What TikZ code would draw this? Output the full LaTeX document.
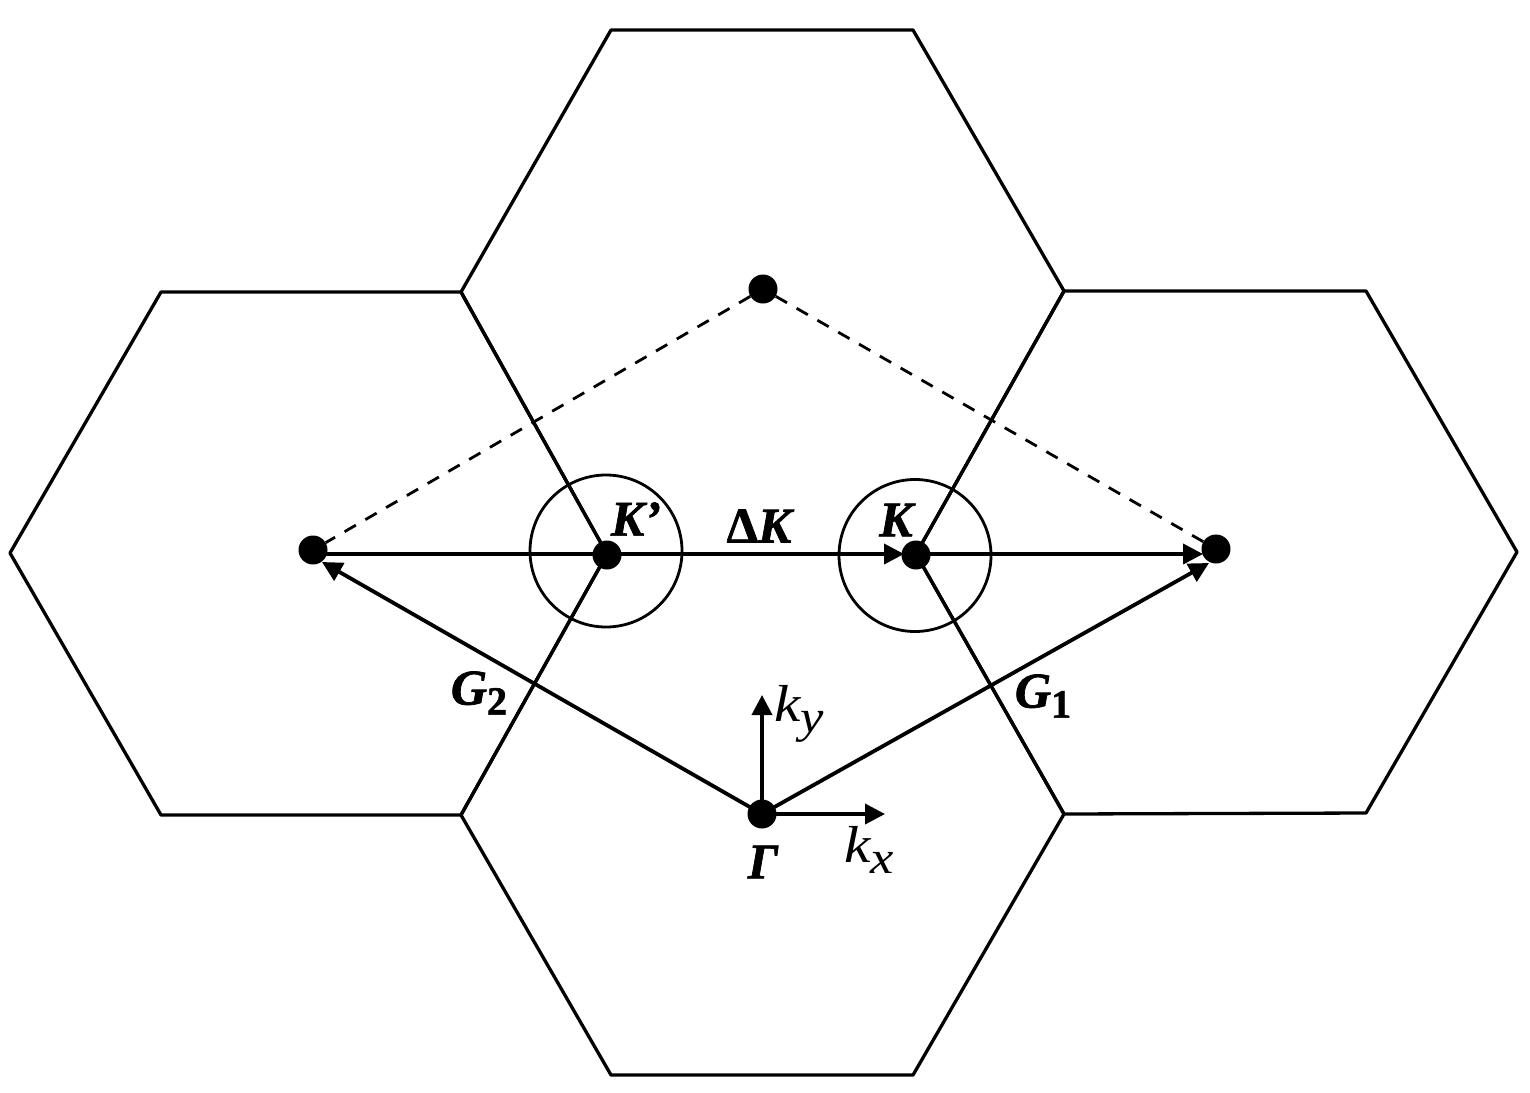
\documentclass[tikz,border=0pt]{standalone}
\usepackage{fontspec}
\setmainfont{Liberation Serif}
\newfontfamily\lblface[FakeBold=1.4]{Liberation Serif Bold Italic}
\newfontfamily\lblup[FakeBold=1.4]{Liberation Serif Bold}
\newfontfamily\axface[FakeStretch=1.14]{Liberation Serif Italic}
\usetikzlibrary{arrows.meta}
\newcommand{\lblfont}{\fontsize{50}{50}\lblface}
\newcommand{\subbf}[1]{\raisebox{-10pt}{\fontsize{40}{40}\lblup #1}}
\newcommand{\kvar}[1]{\axface k\raisebox{-11pt}{\fontsize{46}{46}\axface #1}}
\tikzset{
  hexline/.style={draw=black,line width=3.3pt,line join=round},
  ring/.style={draw=black,line width=2.8pt},
  dot/.style={circle,fill=black,inner sep=0pt,minimum size=29pt},
  vec/.style={draw=black,line width=3.8pt,-{Triangle[length=20pt,width=20pt]}},
  dashline/.style={draw=black,line width=2.8pt,dash pattern=on 13pt off 11pt},
  lbl/.style={inner sep=0pt,font=\lblfont},
  axlbl/.style={inner sep=0pt,font=\fontsize{52}{52}\selectfont}
}
\begin{document}
\begin{tikzpicture}[x=1pt,y=-1pt]
\useasboundingbox (0,0) rectangle (1530,1092);
\fill[white] (0,0) rectangle (1530,1092);
% hexagons (the edge shared along K'-K is carried by the arrow)
\draw[hexline] (607,554) -- (461,292) -- (611,30) -- (913,30) -- (1064,291) -- (916,554);
\draw[hexline] (607,554) -- (461,292) -- (161,292) -- (10,553) -- (161,815) -- (461,815) -- cycle;
\draw[hexline] (916,554) -- (1064,291) -- (1366,291) -- (1517,552) -- (1366,813) -- (1064,814) -- cycle;
\draw[hexline] (607,554) -- (461,815) -- (611,1075) -- (913,1075) -- (1064,814) -- (916,554);
% rings
\node[ring,circle,inner sep=0pt,minimum size=152pt] (ringL) at (606,551) {};
\node[ring,circle,inner sep=0pt,minimum size=152pt] (ringR) at (915,555.5) {};
% points
\node[dot] (top) at (763,289) {};
\node[dot] (left) at (313,550) {};
\node[dot] (right) at (1216,549) {};
\node[dot] (kp) at (607,555) {};
\node[dot] (k) at (916,555) {};
\node[dot] (gamma) at (762,814) {};
% free ends
\coordinate (hstart) at (313,554);
\coordinate (hmid) at (904,554);
\coordinate (hk) at (916,554);
\coordinate (hend) at (1203,554);
\coordinate (g1tip) at (1209,563);
\coordinate (g2tip) at (322,562);
\coordinate (gstart) at (762,814);
\coordinate (kytip) at (762,695);
\coordinate (kxtip) at (885,814);
% connectors
\draw[dashline] (top) -- (left);
\draw[dashline] (top) -- (right);
\draw[vec] (hstart) -- (hmid);
\draw[vec] (hk) -- (hend);
\draw[vec] (gstart) -- (g1tip);
\draw[vec] (gstart) -- (g2tip);
\draw[vec] (gstart) -- (kytip);
\draw[vec] (gstart) -- (kxtip);
% labels
\node[lbl] (lkp) at (636,519) {K’};
\node[lbl] (ldk) at (759,526) {{\lblup Δ}K};
\node[lbl] (lk) at (896,520) {K};
\node[lbl] (lg2) at (479,693) {G\subbf{2}};
\node[lbl] (lg1) at (1043,696) {G\subbf{1}};
\node[lbl] (lgam) at (763,862) {Γ};
\node[axlbl] (lky) at (799,714) {\kvar{y}};
\node[axlbl] (lkx) at (869,850) {\kvar{x}};
\end{tikzpicture}
\end{document}
